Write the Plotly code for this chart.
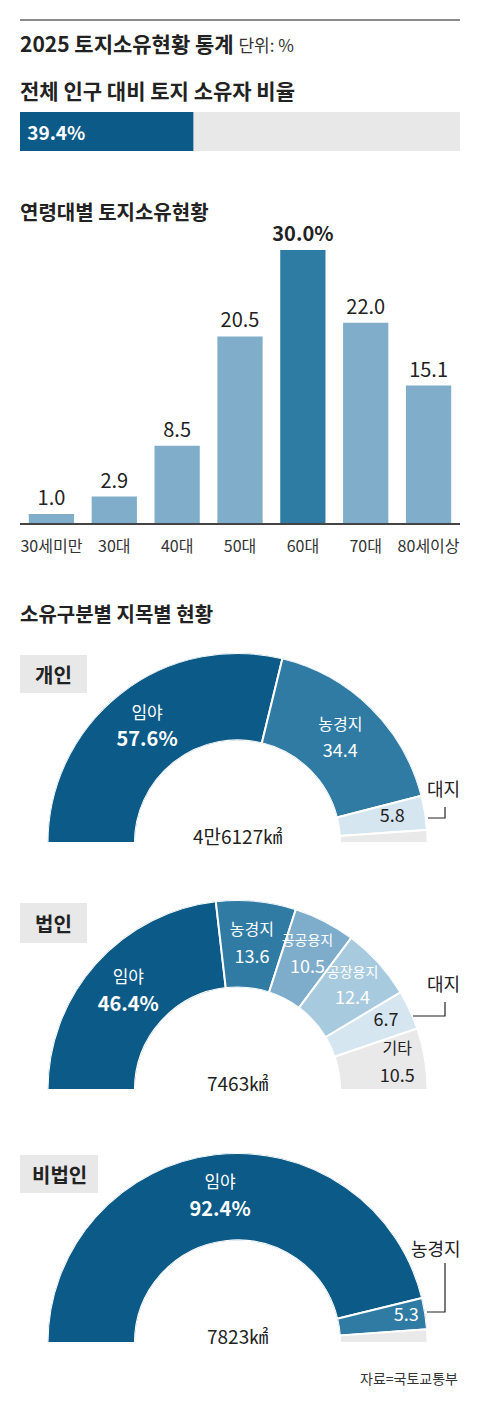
import plotly.graph_objects as go

W, H = 480, 1410
FONT = "Noto Sans CJK KR, sans-serif"

# 전체 인구 대비 토지 소유자 비율
owner_ratio = 39.4

# 연령대별 토지소유현황
age_groups = ["30세미만", "30대", "40대", "50대", "60대", "70대", "80세이상"]
age_share = [1.0, 2.9, 8.5, 20.5, 30.0, 22.0, 15.1]

# 소유구분별 지목별 현황
owner_groups = ["개인", "법인", "비법인"]
owner_area = ["4만6127㎢", "7463㎢", "7823㎢"]
person_types = ["임야", "농경지", "대지", "기타"]
person_share = [57.6, 34.4, 5.8, 2.2]
corp_types = ["임야", "농경지", "공공용지", "공장용지", "대지", "기타"]
corp_share = [46.4, 13.6, 10.5, 12.4, 6.7, 10.5]
noncorp_types = ["임야", "농경지", "기타"]
noncorp_share = [92.4, 5.3, 2.3]

type_colors = {"임야": "#0b5a87", "농경지": "#2f7ba4", "공공용지": "#7eaccb",
               "공장용지": "#a8cadf", "대지": "#d6e6f0", "기타": "#e9e9e9"}
dark_text = {"대지", "기타"}
label_r = {"기타": 0.68, "공공용지": 0.57, "공장용지": 0.6}


def px_x(x):
    return x / W


def px_y(y):
    return 1 - y / H


fig = go.Figure()

# --- 소유자 비율 막대
fig.add_trace(go.Bar(x=[100], y=[0], orientation="h", width=1,
                     marker=dict(color="#e8e8e8", line_width=0),
                     xaxis="x", yaxis="y", hoverinfo="skip"))
fig.add_trace(go.Bar(x=[owner_ratio], y=[0], orientation="h", width=1,
                     marker=dict(color="#0b5a87", line_width=0),
                     text=[f" <b>{owner_ratio}%</b>"], textposition="inside",
                     insidetextanchor="start", constraintext="none",
                     textfont=dict(color="white", size=19, family=FONT),
                     xaxis="x", yaxis="y", hoverinfo="skip"))

# --- 연령대별 막대
top = max(age_share)
bar_colors = ["#2e7ca4" if v == top else "#7fadca" for v in age_share]
bar_text = [f"<b>{v:.1f}%</b>" if v == top else f"{v:.1f}" for v in age_share]
fig.add_trace(go.Bar(x=age_groups, y=age_share, width=0.72,
                     marker=dict(color=bar_colors, line_width=0),
                     text=bar_text, textposition="outside", cliponaxis=False,
                     constraintext="none",
                     textfont=dict(color="#222", size=20, family=FONT),
                     xaxis="x2", yaxis="y2", hoverinfo="skip"))

# --- 반원 도넛
donuts = [(person_types, person_share, "대지", 0.62),
          (corp_types, corp_share, "대지", 0.7),
          (noncorp_types, noncorp_share, "농경지", 0.78)]
bottoms = [843, 1090, 1343]
R = 190
for i, (types, share, callout, callout_r) in enumerate(donuts):
    total = sum(share)
    widths = [v / total * 180 for v in share]
    mids, acc = [], 0
    for w in widths:
        mids.append(acc + w / 2)
        acc += w
    pname = "polar" if i == 0 else f"polar{i + 1}"
    fig.add_trace(go.Barpolar(r=[1] * len(share), theta=mids, width=widths,
                              marker=dict(color=[type_colors[t] for t in types],
                                          line=dict(color="white", width=2)),
                              subplot=pname, hoverinfo="skip"))

    names, values, rs, thetas, cols = [], [], [], [], []
    for j, (t, v) in enumerate(zip(types, share)):
        col = "#222" if t in dark_text else "white"
        if t == callout:
            # 값만 조각 안에, 이름은 바깥 지시선 옆에
            fig.add_trace(go.Scatterpolar(r=[callout_r], theta=[mids[j]], mode="text",
                                          text=[f"{v}"],
                                          textfont=dict(color=col, size=18, family=FONT),
                                          cliponaxis=False, subplot=pname,
                                          hoverinfo="skip"))
            continue
        if t == "기타" and v < 3:
            continue
        if j == 0:
            names.append(f"<span style='font-size:17px'>{t}</span>")
            values.append(f"<b><span style='font-size:20px'>{v}%</span></b>")
        else:
            names.append(f"<span style='font-size:{14 if len(t) > 3 else 16}px'>{t}</span>")
            values.append(f"{v}")
        rs.append(label_r.get(t, 0.5))
        thetas.append(mids[j])
        cols.append(col)
    for txt, pos in ((names, "top center"), (values, "bottom center")):
        fig.add_trace(go.Scatterpolar(r=rs, theta=thetas, mode="markers+text",
                                      text=txt, textposition=pos,
                                      marker=dict(size=6, opacity=0),
                                      textfont=dict(color=cols, size=18, family=FONT),
                                      cliponaxis=False, subplot=pname,
                                      hoverinfo="skip"))

    dom = dict(x=[px_x(237.5 - R), px_x(237.5 + R)],
               y=[px_y(bottoms[i]), px_y(bottoms[i] - R)])
    fig.update_layout(**{pname: dict(
        domain=dom, sector=[0, 180], hole=0.54, bgcolor="rgba(0,0,0,0)",
        radialaxis=dict(range=[0, 1], showline=False, showgrid=False,
                        showticklabels=False, ticks=""),
        angularaxis=dict(direction="clockwise", rotation=180, showline=False,
                         showgrid=False, showticklabels=False, ticks=""))})

annotations = []
shapes = []


def note(text, x, y, size, color="#222", xanchor="left", bold=False):
    annotations.append(dict(text=f"<b>{text}</b>" if bold else text,
                            x=px_x(x), y=px_y(y), xref="paper", yref="paper",
                            xanchor=xanchor, yanchor="middle", showarrow=False,
                            font=dict(size=size, color=color, family=FONT)))


# 제목
shapes.append(dict(type="line", xref="paper", yref="paper",
                   x0=px_x(20), x1=px_x(460), y0=px_y(20), y1=px_y(20),
                   line=dict(color="#8c8c8c", width=2)))
note("<b>2025 토지소유현황 통계</b> <span style='font-size:17px;color:#333'>단위: %</span>",
     18, 43, 21)
note("전체 인구 대비 토지 소유자 비율", 18, 90, 21, bold=True)
note("연령대별 토지소유현황", 18, 211, 20, bold=True)
note("소유구분별 지목별 현황", 18, 613, 20, bold=True)

# 구분 라벨 상자
boxes = [(655, 693, 87), (903, 943, 87), (1155, 1193, 98)]
for name, (y0, y1, x1) in zip(owner_groups, boxes):
    shapes.append(dict(type="rect", xref="paper", yref="paper", layer="below",
                       x0=px_x(20), x1=px_x(x1), y0=px_y(y1), y1=px_y(y0),
                       fillcolor="#e8e8e8", line_width=0))
    note(name, (20 + x1) / 2, (y0 + y1) / 2, 20, xanchor="center", bold=True)

# 면적
for area, b in zip(owner_area, bottoms):
    note(area, 237.5, b - 8, 19, xanchor="center")

# 바깥 라벨과 지시선
callouts = [("대지", 443, 788, 428, 818, 807),
            ("대지", 443, 983, 413, 1016, 1002),
            ("농경지", 436, 1248, 427, 1312, 1263)]
for text, tx, ty, lx, ly, vy in callouts:
    note(text, tx, ty, 18, xanchor="center")
    shapes.append(dict(type="path", xref="paper", yref="paper",
                       path=f"M {px_x(lx)},{px_y(ly)} L {px_x(445)},{px_y(ly)} L {px_x(445)},{px_y(vy)}",
                       line=dict(color="#222", width=1.2)))

note("자료=국토교통부", 460, 1378, 14, color="#333", xanchor="right")

fig.update_layout(
    width=W, height=H, margin=dict(l=0, r=0, t=0, b=0),
    paper_bgcolor="white", plot_bgcolor="white", showlegend=False,
    barmode="overlay", font=dict(family=FONT, color="#222"),
    xaxis=dict(domain=[px_x(20), px_x(460)], range=[0, 100], visible=False),
    yaxis=dict(domain=[px_y(151), px_y(112)], range=[-0.5, 0.5], visible=False),
    xaxis2=dict(domain=[px_x(20), px_x(460)], anchor="y2", showline=True,
                linecolor="#444", linewidth=1.5, ticks="", showgrid=False,
                ticklabelstandoff=8,
                tickfont=dict(size=16, color="#333", family=FONT)),
    yaxis2=dict(domain=[px_y(523), px_y(250)], range=[0, 30], anchor="x2",
                visible=False),
    annotations=annotations, shapes=shapes,
)

fig.write_html("out.html", config={"displayModeBar": False},
               post_script="document.body.style.margin='0';")
